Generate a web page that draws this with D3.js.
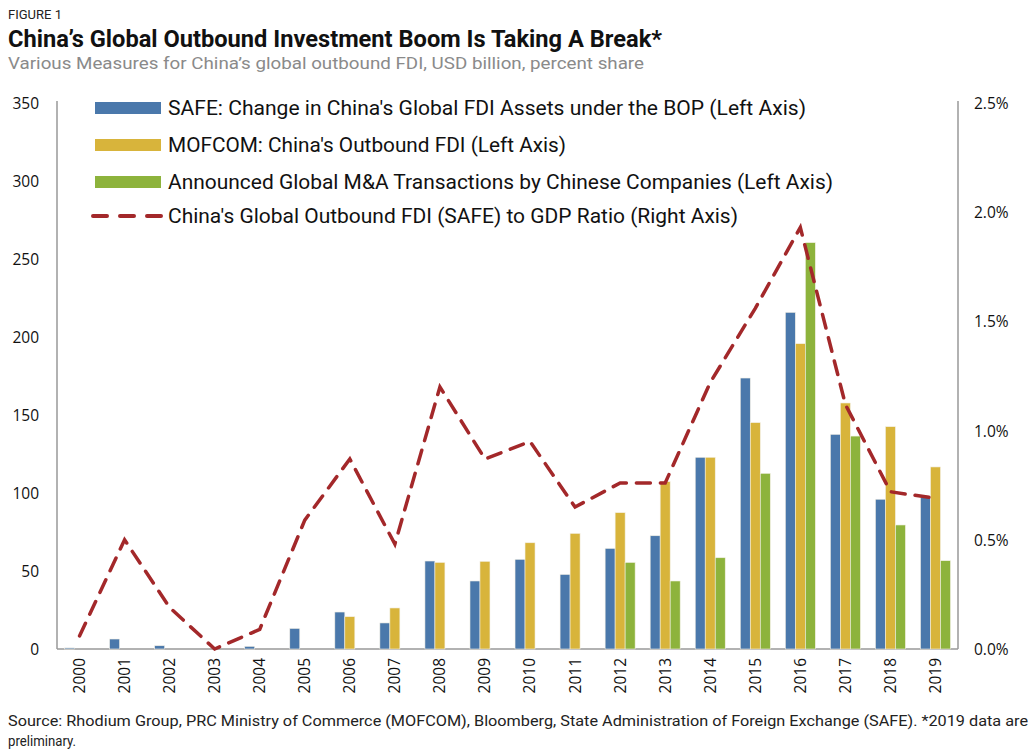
<!DOCTYPE html>
<html><head><meta charset="utf-8">
<script src="https://cdn.jsdelivr.net/npm/d3@7/dist/d3.min.js"></script>
<style>body{margin:0;background:#fff}svg{display:block}</style>
</head><body>
<svg id="c" width="1036" height="754"></svg>
<script>
const years = ["2000","2001","2002","2003","2004","2005","2006","2007","2008","2009","2010","2011","2012","2013","2014","2015","2016","2017","2018","2019"];
const safe   = [0.7, 6.4, 2.1, 0, 1.7, 13.2, 23.7, 16.7, 56.4, 43.6, 57.5, 47.8, 64.5, 72.6, 122.9, 173.7, 215.8, 137.6, 96, 97];
const mofcom = [null, null, null, null, null, null, 20.7, 26.3, 55.5, 56.2, 68.1, 74.1, 87.4, 107.3, 122.9, 145.1, 195.7, 157.7, 142.5, 116.7];
const mna    = [null, null, null, null, null, null, null, null, null, null, null, null, 55.5, 43.6, 58.5, 112.6, 260.5, 136.5, 79.5, 56.6];
const ratio  = [0.06, 0.50, 0.19, 0.0, 0.09, 0.59, 0.87, 0.48, 1.20, 0.87, 0.95, 0.65, 0.76, 0.76, 1.22, 1.56, 1.93, 1.12, 0.72, 0.69];
const leftTicks = [0,50,100,150,200,250,300,350];
const rightTicks = [0,0.5,1.0,1.5,2.0,2.5];
const seriesNames = [
  "SAFE: Change in China's Global FDI Assets under the BOP (Left Axis)",
  "MOFCOM: China's Outbound FDI (Left Axis)",
  "Announced Global M&A Transactions by Chinese Companies (Left Axis)",
  "China's Global Outbound FDI (SAFE) to GDP Ratio (Right Axis)"
];
const colors = ["#4a78ab", "#d8b43b", "#8db33c", "#a3282a"];

const svg = d3.select("#c");
const L = 57, R = 958, T = 103, B = 649;
const x = d3.scaleBand().domain(years).range([L, R]).paddingInner(0).paddingOuter(0);
const sub = d3.scaleBand().domain([0,1,2]).range([0, 30]);
const y = d3.scaleLinear().domain([0,350]).range([B, T]);
const y2 = d3.scaleLinear().domain([0,2.5]).range([B, T]);

function fit(sel, w) {
  sel.attr("textLength", w).attr("lengthAdjust", "spacingAndGlyphs");
}

// titles
svg.append("text").attr("x", 8).attr("y", 19).attr("font-family", "Roboto").attr("font-size", 13).attr("fill", "#222").text("FIGURE 1").call(s=>fit(s,54));
svg.append("text").attr("x", 8).attr("y", 47).attr("font-family", "Roboto").attr("font-weight", "bold").attr("font-size", 23).attr("fill", "#111")
  .text("China’s Global Outbound Investment Boom Is Taking A Break*").call(s=>fit(s,654));
svg.append("text").attr("x", 8).attr("y", 69).attr("font-family", "Roboto").attr("font-size", 17).attr("fill", "#8a8a8a")
  .text("Various Measures for China’s global outbound FDI, USD billion, percent share").call(s=>fit(s,636));

// axes lines
const g = svg.append("g");
g.append("line").attr("x1", L).attr("x2", L).attr("y1", 101).attr("y2", B).attr("stroke", "#999").attr("stroke-width", 1.5);
g.append("line").attr("x1", R).attr("x2", R).attr("y1", 101).attr("y2", B).attr("stroke", "#999").attr("stroke-width", 1.5);

// left ticks
const ax = d3.axisLeft(y).tickValues(leftTicks).tickSize(0).tickPadding(0).tickFormat(d3.format("d"));
const gl = svg.append("g").attr("transform", `translate(39,0)`).call(ax);
gl.select(".domain").remove();
gl.selectAll("text").attr("font-family", "Open Sans").attr("font-size", 15.5).attr("fill", "#111").attr("dy", "0.35em");
const ar = d3.axisRight(y2).tickValues(rightTicks).tickSize(0).tickPadding(0).tickFormat(d => d.toFixed(1) + "%");
const gr = svg.append("g").attr("transform", `translate(974,0)`).call(ar);
gr.select(".domain").remove();
gr.selectAll("text").attr("font-family", "Open Sans").attr("font-size", 15.5).attr("fill", "#111").attr("dy", "0.35em");

// bars
const seriesVals = [safe, mofcom, mna];
seriesVals.forEach((vals, si) => {
  svg.append("g").selectAll("rect").data(vals.map((v,i)=>({v, yr: years[i]})).filter(d => d.v !== null && d.v > 0))
    .join("rect")
    .attr("x", d => x(d.yr) + (x.bandwidth() - 30)/2 + sub(si))
    .attr("width", sub.bandwidth())
    .attr("y", d => y(d.v))
    .attr("height", d => y(0) - y(d.v))
    .attr("fill", colors[si])
    .attr("stroke", "#f3f0e6").attr("stroke-width", 0.6);
});

// bottom axis
g.append("line").attr("x1", L).attr("x2", R).attr("y1", B).attr("y2", B).attr("stroke", "#999").attr("stroke-width", 1.5);

// line
const line = d3.line().x((d,i) => x(years[i]) + x.bandwidth()/2).y(d => y2(d));
svg.append("path").datum(ratio).attr("d", line).attr("fill", "none").attr("stroke", colors[3])
  .attr("stroke-width", 3.5).attr("stroke-dasharray", "14,10").attr("stroke-linecap", "round");

// x labels
const ab = d3.axisBottom(x).tickSize(0).tickPadding(0);
const gb = svg.append("g").attr("transform", `translate(0,${B})`).call(ab);
gb.select(".domain").remove();
gb.selectAll("text").attr("font-family", "Open Sans").attr("font-size", 15.5).attr("fill", "#111")
  .attr("transform", "rotate(-90)").attr("text-anchor", "end").attr("x", -9).attr("y", 0).attr("dy", "0.35em");

// legend
const legY = [108, 145, 182, 216];
const legW = [638, 398, 665, 570];
seriesNames.forEach((n, i) => {
  if (i < 3) {
    svg.append("rect").attr("x", 95).attr("y", legY[i] - 6).attr("width", 66).attr("height", 12).attr("fill", colors[i]);
  } else {
    svg.append("line").attr("x1", 93).attr("x2", 162).attr("y1", legY[i]).attr("y2", legY[i])
      .attr("stroke", colors[3]).attr("stroke-width", 4).attr("stroke-dasharray", "14,13").attr("stroke-linecap", "round");
  }
  svg.append("text").attr("x", 168).attr("y", legY[i]).attr("dy", "0.35em").attr("font-family", "Roboto").attr("font-size", 20)
    .attr("fill", "#111").text(n).call(s=>fit(s, legW[i]));
});

// source
svg.append("text").attr("x", 8).attr("y", 726).attr("font-family", "Roboto").attr("font-size", 15).attr("fill", "#222")
  .text("Source: Rhodium Group, PRC Ministry of Commerce (MOFCOM), Bloomberg, State Administration of Foreign Exchange (SAFE). *2019 data are").call(s=>fit(s,1020));
svg.append("text").attr("x", 8).attr("y", 746).attr("font-family", "Roboto").attr("font-size", 15).attr("fill", "#222").text("preliminary.").call(s=>fit(s,68));
</script>
</body></html>
